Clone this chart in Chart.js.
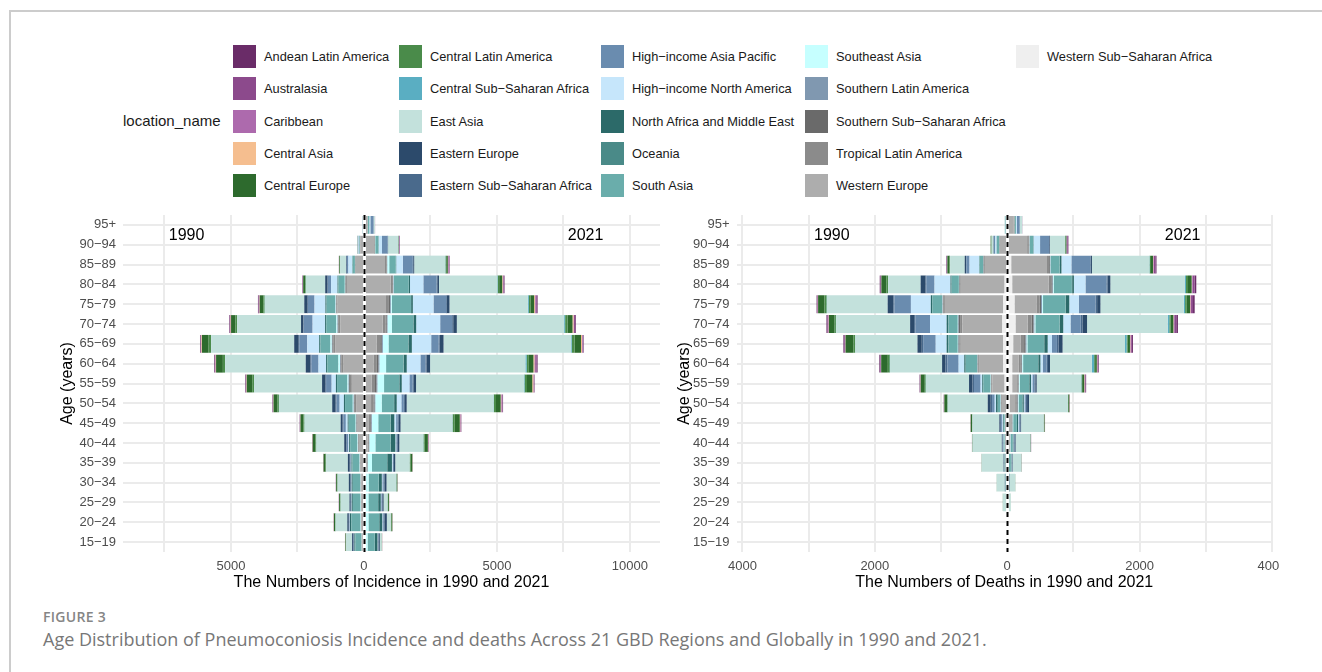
<!DOCTYPE html>
<html>
<head>
<meta charset="utf-8">
<script src="https://cdn.jsdelivr.net/npm/chart.js@4.4.1/dist/chart.umd.min.js"></script>
<style>
  body { margin: 0; width: 1322px; height: 672px; background: #fff; overflow: hidden; position: relative;
         font-family: "Liberation Sans", Arial, sans-serif; }
  #frame { position: absolute; left: 9px; top: 10px; width: 1320px; height: 670px;
           border-top: 2px solid #cccccc; border-left: 2px solid #cccccc; }
  .key { position: absolute; width: 23px; height: 23px; }
  .lab { position: absolute; font-size: 12.8px; line-height: 23px; color: #1a1a1a; white-space: nowrap; }
  #legendTitle { position: absolute; left: 123px; top: 110px; font-size: 15px; line-height: 22px; color: #1a1a1a; }
  .panel { position: absolute; top: 200px; overflow: hidden; }
  #figLabel { position: absolute; left: 43px; top: 607px; font-family: "Open Sans", sans-serif; font-weight: 600;
              font-size: 14px; color: #858585; letter-spacing: 0.3px; }
  #caption { position: absolute; left: 43px; top: 627px; font-family: "Open Sans", sans-serif;
             font-size: 18px; color: #777; white-space: nowrap; }
</style>
</head>
<body>
<div id="frame"></div>
<div id="legendTitle">location_name</div>
<div id="legend"></div>
<div class="panel" style="left:40px;width:630px;height:400px;"><canvas id="incidenceChart" width="630" height="400"></canvas></div>
<div class="panel" style="left:672px;width:607px;height:400px;"><canvas id="deathsChart" width="628" height="400"></canvas></div>
<div id="figLabel">FIGURE 3</div>
<div id="caption">Age Distribution of Pneumoconiosis Incidence and deaths Across 21 GBD Regions and Globally in 1990 and 2021.</div>

<script>
"use strict";

/* ---------- data ---------- */

const ages = ["15−19", "20−24", "25−29", "30−34", "35−39", "40−44", "45−49", "50−54", "55−59",
              "60−64", "65−69", "70−74", "75−79", "80−84", "85−89", "90−94", "95+"];

const regions = [
  "Andean Latin America", "Australasia", "Caribbean", "Central Asia", "Central Europe",
  "Central Latin America", "Central Sub−Saharan Africa", "East Asia", "Eastern Europe",
  "Eastern Sub−Saharan Africa", "High−income Asia Pacific", "High−income North America",
  "North Africa and Middle East", "Oceania", "South Asia", "Southeast Asia",
  "Southern Latin America", "Southern Sub−Saharan Africa", "Tropical Latin America",
  "Western Europe", "Western Sub−Saharan Africa"
];

const regionColors = [
  "#6a2c68", "#8c4a8c", "#ad6aad", "#f5be8f", "#2d6a2d",
  "#4a8b4a", "#5aaec2", "#c3e1dc", "#2c4a6b",
  "#4a6a8c", "#6a8caf", "#c6e6fb",
  "#2c6a69", "#4a8a88", "#6aadab", "#c6ffff",
  "#8098b0", "#6a6a6a", "#8b8b8b",
  "#adadad", "#efefef"
];

const incidenceTicks = [-7500, -5000, -2500, 0, 2500, 5000, 7500, 10000];
const deathsTicks = [-4000, -3000, -2000, -1000, 0, 1000, 2000, 3000, 4000];

// one row per region (same order as regions), one value per age group
const incidence1990 = [
  [4, 5, 4, 4, 5, 8, 10, 15, 20, 25, 20, 20, 20, 10, 3, 0, 0],
  [3, 3, 3, 3, 4, 6, 8, 12, 18, 22, 22, 25, 30, 15, 5, 1, 0],
  [3, 3, 3, 3, 3, 5, 6, 8, 10, 12, 12, 10, 8, 5, 2, 0, 0],
  [5, 5, 4, 4, 5, 7, 8, 10, 12, 14, 20, 15, 10, 6, 2, 0, 0],
  [20, 40, 40, 40, 70, 100, 110, 150, 205, 255, 250, 165, 135, 75, 25, 5, 1],
  [10, 20, 17, 13, 25, 35, 40, 50, 70, 80, 90, 60, 50, 25, 10, 3, 0],
  [3, 3, 3, 3, 4, 5, 5, 5, 6, 6, 8, 6, 4, 3, 1, 0, 0],
  [220, 440, 330, 420, 815, 1045, 1355, 2000, 2550, 3030, 3120, 2400, 1485, 725, 220, 20, 5],
  [45, 55, 45, 55, 70, 70, 75, 130, 120, 180, 170, 80, 125, 90, 25, 5, 1],
  [20, 25, 20, 25, 25, 25, 25, 30, 30, 30, 20, 20, 15, 10, 5, 1, 0],
  [10, 10, 10, 15, 20, 60, 95, 120, 210, 270, 300, 335, 245, 120, 60, 20, 5],
  [10, 10, 10, 12, 20, 30, 70, 160, 160, 285, 450, 470, 410, 245, 145, 20, 5],
  [35, 45, 40, 40, 35, 35, 35, 40, 40, 40, 40, 40, 40, 30, 10, 5, 1],
  [3, 3, 3, 3, 3, 3, 3, 3, 4, 4, 4, 3, 2, 2, 1, 0, 0],
  [230, 350, 290, 280, 260, 270, 260, 290, 390, 420, 380, 380, 320, 240, 90, 25, 5],
  [10, 15, 15, 15, 15, 20, 20, 30, 40, 60, 50, 40, 25, 15, 8, 3, 1],
  [3, 4, 4, 5, 6, 8, 12, 20, 25, 25, 25, 20, 15, 10, 5, 2, 0],
  [5, 6, 6, 6, 8, 10, 15, 25, 30, 30, 30, 25, 15, 15, 6, 2, 0],
  [10, 12, 12, 14, 18, 25, 30, 50, 70, 80, 70, 60, 40, 40, 20, 8, 2],
  [60, 85, 85, 95, 120, 180, 230, 290, 450, 760, 1080, 890, 990, 640, 300, 140, 30],
  [5, 6, 5, 5, 5, 6, 6, 6, 6, 5, 4, 3, 2, 1, 0, 0, 0]
];

const incidence2021 = [
  [2, 3, 2, 3, 4, 10, 12, 20, 15, 40, 20, 28, 30, 23, 15, 10, 1],
  [2, 3, 2, 3, 4, 10, 20, 30, 20, 50, 25, 40, 45, 25, 30, 20, 3],
  [2, 3, 2, 3, 4, 8, 12, 20, 15, 30, 18, 20, 25, 20, 15, 8, 2],
  [3, 5, 4, 4, 6, 10, 15, 20, 38, 38, 38, 38, 30, 20, 10, 3, 0],
  [10, 34, 34, 25, 60, 124, 188, 175, 198, 171, 238, 186, 140, 113, 58, 10, 3],
  [5, 20, 20, 15, 40, 40, 80, 80, 90, 80, 100, 90, 60, 50, 30, 10, 2],
  [3, 3, 3, 5, 5, 8, 10, 15, 20, 50, 30, 38, 38, 20, 10, 5, 2],
  [67, 147, 147, 362, 536, 900, 1948, 3263, 4061, 3584, 4800, 4035, 2945, 2193, 1166, 376, 40],
  [37, 90, 47, 77, 50, 60, 67, 67, 85, 135, 148, 135, 95, 63, 35, 10, 3],
  [20, 30, 20, 30, 30, 40, 40, 40, 40, 40, 40, 40, 30, 25, 15, 5, 2],
  [20, 40, 25, 50, 20, 20, 60, 94, 125, 188, 276, 451, 476, 500, 376, 213, 120],
  [10, 15, 15, 20, 25, 30, 67, 174, 288, 514, 727, 902, 777, 501, 251, 125, 40],
  [94, 107, 94, 107, 174, 174, 134, 94, 88, 113, 125, 100, 63, 38, 10, 5, 2],
  [8, 10, 10, 10, 7, 7, 10, 10, 7, 9, 7, 10, 7, 9, 6, 5, 2],
  [270, 400, 360, 380, 570, 570, 460, 460, 570, 655, 745, 805, 720, 555, 245, 120, 55],
  [67, 94, 94, 94, 161, 228, 241, 241, 251, 251, 213, 163, 38, 20, 75, 10, 3],
  [5, 5, 5, 8, 10, 15, 25, 30, 35, 40, 40, 30, 30, 20, 10, 3, 1],
  [8, 8, 8, 12, 14, 20, 35, 40, 55, 55, 60, 40, 40, 25, 15, 5, 2],
  [10, 10, 10, 15, 20, 30, 50, 90, 120, 130, 130, 110, 110, 60, 60, 25, 10],
  [40, 45, 45, 40, 90, 130, 180, 260, 288, 350, 476, 702, 827, 1003, 790, 380, 125],
  [5, 6, 5, 5, 5, 6, 6, 6, 6, 5, 4, 3, 2, 1, 0, 0, 0]
];

const deaths1990 = [
  [0, 0, 0, 0, 1, 1, 2, 3, 7, 10, 13, 15, 7, 10, 8, 1, 0],
  [0, 0, 0, 0, 0, 0, 1, 2, 5, 10, 12, 15, 10, 10, 5, 0, 0],
  [0, 0, 0, 0, 0, 1, 1, 2, 3, 5, 5, 5, 3, 3, 2, 0, 0],
  [0, 0, 0, 0, 1, 1, 2, 3, 3, 3, 3, 3, 3, 2, 1, 0, 0],
  [0, 0, 1, 1, 2, 5, 20, 40, 60, 100, 120, 85, 95, 75, 30, 10, 0],
  [0, 0, 1, 1, 1, 2, 5, 10, 15, 30, 25, 20, 35, 25, 10, 5, 0],
  [0, 0, 0, 0, 0, 1, 1, 2, 2, 3, 3, 3, 3, 2, 1, 0, 0],
  [5, 8, 50, 123, 332, 440, 406, 604, 652, 787, 938, 1118, 918, 491, 221, 30, 10],
  [0, 1, 2, 3, 5, 10, 20, 45, 50, 50, 65, 60, 85, 75, 20, 5, 0],
  [0, 0, 1, 2, 3, 5, 7, 20, 25, 30, 21, 21, 16, 10, 3, 0, 0],
  [0, 0, 1, 2, 3, 10, 20, 40, 100, 170, 190, 220, 250, 125, 50, 20, 0],
  [0, 0, 1, 2, 3, 5, 10, 20, 25, 85, 165, 251, 301, 241, 145, 20, 5],
  [0, 1, 2, 3, 5, 5, 10, 25, 13, 20, 25, 25, 20, 15, 5, 0, 0],
  [0, 0, 0, 0, 0, 0, 0, 1, 2, 3, 3, 3, 2, 2, 1, 0, 0],
  [1, 2, 3, 8, 10, 10, 15, 40, 110, 170, 140, 140, 150, 110, 55, 40, 10],
  [0, 0, 1, 2, 3, 3, 3, 5, 5, 5, 5, 5, 5, 3, 2, 0, 0],
  [0, 0, 0, 1, 1, 2, 2, 4, 4, 5, 8, 10, 5, 5, 5, 2, 0],
  [0, 0, 0, 1, 2, 3, 3, 6, 6, 8, 12, 20, 10, 8, 8, 3, 0],
  [0, 0, 1, 2, 3, 4, 4, 8, 12, 12, 20, 35, 20, 12, 12, 5, 1],
  [1, 2, 3, 8, 15, 20, 20, 70, 185, 366, 642, 602, 882, 662, 331, 110, 15],
  [0, 0, 1, 2, 3, 5, 5, 10, 40, 60, 60, 75, 60, 40, 5, 0, 0]
];

const deaths2021 = [
  [0, 0, 0, 0, 1, 2, 2, 3, 10, 10, 17, 25, 25, 25, 17, 10, 0],
  [0, 0, 0, 0, 1, 2, 2, 3, 10, 10, 15, 30, 30, 30, 25, 15, 3],
  [0, 0, 0, 0, 1, 1, 1, 2, 5, 5, 8, 10, 10, 10, 8, 5, 0],
  [0, 0, 0, 1, 1, 1, 2, 3, 5, 5, 5, 5, 5, 5, 3, 0, 0],
  [0, 0, 1, 1, 2, 4, 8, 15, 30, 25, 35, 40, 50, 55, 30, 10, 0],
  [0, 0, 1, 1, 2, 3, 5, 5, 10, 15, 15, 20, 25, 30, 20, 10, 0],
  [0, 0, 0, 1, 1, 2, 2, 3, 5, 35, 25, 25, 20, 15, 5, 2, 0],
  [5, 8, 30, 80, 130, 220, 340, 585, 672, 632, 943, 1218, 1259, 1128, 867, 226, 35],
  [0, 0, 1, 3, 5, 10, 10, 29, 20, 30, 60, 70, 50, 40, 15, 10, 3],
  [0, 1, 1, 2, 5, 10, 10, 20, 15, 20, 25, 25, 25, 20, 10, 5, 2],
  [0, 0, 1, 2, 5, 8, 15, 20, 30, 60, 75, 155, 251, 316, 286, 135, 40],
  [0, 0, 1, 2, 5, 5, 10, 10, 20, 35, 65, 110, 145, 175, 150, 100, 15],
  [0, 1, 2, 3, 6, 8, 17, 20, 25, 30, 50, 50, 50, 25, 25, 5, 0],
  [0, 0, 0, 0, 1, 1, 2, 3, 5, 5, 6, 6, 6, 5, 3, 0, 0],
  [1, 2, 8, 15, 30, 30, 55, 52, 140, 226, 250, 365, 340, 276, 135, 50, 20],
  [0, 1, 1, 2, 5, 8, 10, 10, 15, 15, 15, 15, 15, 10, 5, 5, 1],
  [0, 0, 0, 1, 1, 2, 4, 10, 4, 8, 15, 15, 15, 10, 8, 5, 0],
  [0, 0, 1, 1, 1, 4, 6, 15, 6, 12, 20, 25, 20, 15, 12, 10, 2],
  [0, 0, 1, 2, 3, 5, 10, 20, 15, 30, 55, 60, 50, 40, 30, 20, 8],
  [1, 1, 5, 5, 10, 25, 40, 80, 75, 100, 110, 185, 331, 551, 541, 276, 90],
  [0, 0, 1, 2, 5, 10, 20, 40, 75, 75, 90, 125, 110, 75, 60, 25, 10]
];

/* ---------- legend (shared by both panels) ---------- */

const legendColX = [233, 399, 601, 805, 1016];
const legendEl = document.getElementById("legend");
regions.forEach((name, i) => {
  const col = Math.floor(i / 5);
  const row = i % 5;
  const top = 45 + row * 32.3;
  const key = document.createElement("div");
  key.className = "key";
  key.style.left = legendColX[col] + "px";
  key.style.top = top + "px";
  key.style.background = regionColors[i];
  legendEl.appendChild(key);
  const lab = document.createElement("div");
  lab.className = "lab";
  lab.style.left = (legendColX[col] + 31) + "px";
  lab.style.top = top + "px";
  lab.textContent = name;
  legendEl.appendChild(lab);
});

/* ---------- plugins ---------- */

// dashed vertical line at zero
const zeroLine = {
  id: "zeroLine",
  afterDatasetsDraw(chart) {
    const { ctx, chartArea, scales } = chart;
    const x = Math.round(scales.x.getPixelForValue(0)) + 0.5;
    ctx.save();
    ctx.strokeStyle = "#ffffff";
    ctx.lineWidth = 3;
    ctx.beginPath();
    ctx.moveTo(x, chartArea.top);
    ctx.lineTo(x, chartArea.bottom);
    ctx.stroke();
    ctx.strokeStyle = "#000000";
    ctx.lineWidth = 2;
    ctx.setLineDash([5, 4]);
    ctx.beginPath();
    ctx.moveTo(x, chartArea.top);
    ctx.lineTo(x, chartArea.bottom);
    ctx.stroke();
    ctx.restore();
  }
};

// "1990" / "2021" labels inside the panel
const yearLabels = {
  id: "yearLabels",
  afterDraw(chart, args, opts) {
    const { ctx, scales } = chart;
    const y = scales.y.getPixelForValue(opts.row);
    ctx.save();
    ctx.font = "16px 'Liberation Sans', Arial, sans-serif";
    ctx.fillStyle = "#000";
    ctx.textAlign = "center";
    ctx.textBaseline = "middle";
    ctx.fillText("1990", scales.x.getPixelForValue(opts.left), y);
    ctx.fillText("2021", scales.x.getPixelForValue(opts.right), y);
    ctx.restore();
  }
};

/* ---------- charts ---------- */

function buildDatasets(v1990, v2021) {
  const sets = [];
  // last region sits next to zero, first region at the outer end (ggplot stacking)
  for (let r = regions.length - 1; r >= 0; r--) {
    sets.push({ label: regions[r] + " 1990", data: v1990[r].map(v => -v),
                backgroundColor: regionColors[r], stack: "pyramid" });
    sets.push({ label: regions[r] + " 2021", data: v2021[r],
                backgroundColor: regionColors[r], stack: "pyramid" });
  }
  return sets;
}

function makeChart(id, v1990, v2021, cfg) {
  return new Chart(document.getElementById(id), {
    type: "bar",
    data: { labels: ages, datasets: buildDatasets(v1990, v2021) },
    options: {
      responsive: false,
      animation: false,
      devicePixelRatio: 1,
      indexAxis: "y",
      layout: { padding: { top: 15, right: cfg.padRight, left: 0, bottom: 0 } },
      datasets: { bar: { barPercentage: 0.9, categoryPercentage: 1, borderWidth: 0 } },
      plugins: {
        legend: { display: false },
        tooltip: { enabled: false },
        yearLabels: { row: 15.46, left: cfg.yearLeft, right: cfg.yearRight }
      },
      scales: {
        x: {
          type: "linear",
          stacked: true,
          min: cfg.min,
          max: cfg.max,
          grid: { color: "#ebebeb", lineWidth: 2, drawTicks: false },
          border: { display: false },
          afterBuildTicks: s => { s.ticks = cfg.ticks.map(v => ({ value: v })); },
          ticks: {
            autoSkip: false,
            maxRotation: 0,
            padding: 7,
            color: "#4d4d4d",
            font: { size: 13, family: "'Liberation Sans', Arial, sans-serif" },
            callback: v => (v % cfg.majorStep === 0 ? String(Math.abs(v)) : "")
          },
          title: {
            display: true,
            text: cfg.xTitle,
            color: "#000",
            font: { size: 16, family: "'Liberation Sans', Arial, sans-serif" },
            padding: { top: 0, bottom: 8 }
          },
          afterFit: s => { s.height = 48; }
        },
        y: {
          type: "category",
          stacked: true,
          reverse: true,
          offset: true,
          grid: { color: "#ebebeb", lineWidth: 2, drawTicks: false, offset: false },
          border: { display: false },
          ticks: {
            autoSkip: false,
            padding: 7,
            color: "#4d4d4d",
            font: { size: 13, family: "'Liberation Sans', Arial, sans-serif" }
          },
          title: {
            display: true,
            text: "Age (years)",
            color: "#000",
            font: { size: 16, family: "'Liberation Sans', Arial, sans-serif" },
            padding: { top: cfg.yTitlePad, bottom: 0 }
          },
          afterFit: s => { s.width = cfg.yWidth; }
        }
      }
    },
    plugins: [zeroLine, yearLabels]
  });
}

makeChart("incidenceChart", incidence1990, incidence2021, {
  min: -9060, max: 11130, ticks: incidenceTicks, majorStep: 5000,
  xTitle: "The Numbers of Incidence in 1990 and 2021",
  yWidth: 83, yTitlePad: 18, padRight: 10,
  yearLeft: -6670, yearRight: 8330
});

makeChart("deathsChart", deaths1990, deaths2021, {
  min: -4090, max: 4000, ticks: deathsTicks, majorStep: 2000,
  xTitle: "The Numbers of Deaths in 1990 and 2021",
  yWidth: 64.5, yTitlePad: 3, padRight: 28,
  yearLeft: -2650, yearRight: 2650
});
</script>
</body>
</html>
